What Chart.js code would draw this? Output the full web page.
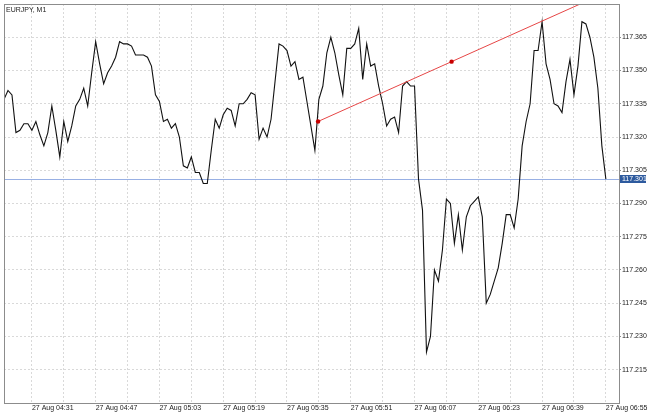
<!DOCTYPE html>
<html><head><meta charset="utf-8">
<script src="https://cdn.jsdelivr.net/npm/chart.js@4/dist/chart.umd.min.js"></script>
<style>html,body{margin:0;padding:0;background:#fff;overflow:hidden}</style>
</head><body>
<canvas id="c" width="650" height="413"></canvas>
<script>
const symbol = "EURJPY, M1";
const datePrefix = "27 Aug ";
const startTime = "04:24";
const prices = [
117.337,117.341,117.339,117.322,117.323,117.326,117.326,117.323,117.327,117.321,
117.316,117.322,117.334,117.323,117.311,117.327,117.318,117.325,117.334,117.337,
117.342,117.334,117.349,117.363,117.353,117.344,117.349,117.352,117.356,117.363,
117.362,117.362,117.361,117.357,117.357,117.357,117.356,117.352,117.339,117.336,
117.327,117.328,117.324,117.326,117.320,117.307,117.306,117.311,117.304,117.304,
117.299,117.299,117.314,117.328,117.324,117.330,117.333,117.332,117.325,117.335,
117.335,117.337,117.340,117.339,117.319,117.324,117.320,117.328,117.345,117.362,
117.361,117.359,117.352,117.354,117.346,117.347,117.336,117.325,117.314,117.337,
117.343,117.358,117.365,117.358,117.348,117.339,117.360,117.360,117.362,117.369,
117.346,117.362,117.352,117.353,117.343,117.335,117.325,117.328,117.329,117.322,
117.343,117.345,117.343,117.343,117.301,117.287,117.223,117.230,117.260,117.255,
117.269,117.292,117.290,117.272,117.285,117.269,117.284,117.289,117.291,117.293,
117.284,117.245,117.249,117.255,117.261,117.272,117.285,117.285,117.279,117.292,
117.316,117.327,117.335,117.359,117.359,117.372,117.353,117.346,117.335,117.334,
117.331,117.345,117.355,117.339,117.352,117.372,117.371,117.365,117.356,117.342,
117.316,117.301
];
const xTickTimes = ["04:31","04:47","05:03","05:19","05:35","05:51","06:07","06:23","06:39","06:55"];
const yTicks = [117.215,117.230,117.245,117.260,117.275,117.290,117.305,117.320,117.335,117.350,117.365];
const currentPrice = 117.301;
const trendX = [78.8, 112.3];     // minutes after start
const trendY = [117.327, 117.354];

const X_MIN = 0, X_MAX = 154.3, Y_MIN = 117.200, Y_MAX = 117.380;

function toMin(t){const [h,m]=t.split(':').map(Number);return h*60+m;}
const t0 = toMin(startTime);
const xTicks = [];
xTickTimes.forEach(t => {
  const m = toMin(t) - t0;
  xTicks.push({value: m, label: datePrefix + t});
  if (m + 8 <= X_MAX) xTicks.push({value: m + 8, label: ''});
});

const lineData = prices.map((p, i) => ({x: i, y: p}));
const slope = (trendY[1] - trendY[0]) / (trendX[1] - trendX[0]);
const trendData = [
  {x: trendX[0], y: trendY[0]},
  {x: trendX[1], y: trendY[1]},
  {x: X_MAX + 10, y: trendY[0] + slope * (X_MAX + 10 - trendX[0])}
];

Chart.defaults.font.family = "'Liberation Sans', Arial, sans-serif";
Chart.defaults.font.size = 7;
Chart.defaults.color = '#222';

const overlay = {
  id: 'overlay',
  beforeDatasetsDraw(chart) {
    const {ctx, chartArea: a, scales: {y}} = chart;
    const py = Math.round(y.getPixelForValue(currentPrice)) + 0.5;
    ctx.save();
    ctx.strokeStyle = '#98b0e4';
    ctx.lineWidth = 1;
    ctx.beginPath(); ctx.moveTo(a.left, py); ctx.lineTo(a.right, py); ctx.stroke();
    ctx.restore();
  },
  afterDraw(chart) {
    const {ctx, chartArea: a, scales: {y}} = chart;
    ctx.save();
    ctx.strokeStyle = '#8c8c8c';
    ctx.lineWidth = 1;
    ctx.strokeRect(a.left + 0.5, a.top + 0.5, a.right - a.left, a.bottom - a.top);
    // current price box
    const py = Math.round(y.getPixelForValue(currentPrice));
    ctx.fillStyle = '#2d5a9e';
    ctx.fillRect(a.right + 1, py - 4, 26, 8);
    ctx.fillStyle = '#fff';
    ctx.font = "7px 'Liberation Sans', Arial, sans-serif";
    ctx.textBaseline = 'middle';
    ctx.textAlign = 'left';
    ctx.fillText(currentPrice.toFixed(3), a.right + 3, py + 0.5);
    // title
    ctx.fillStyle = '#222';
    ctx.textBaseline = 'top';
    ctx.fillText(symbol, a.left + 2, a.top + 3);
    ctx.restore();
  }
};

new Chart(document.getElementById('c'), {
  type: 'line',
  data: {
    datasets: [
      {data: lineData, borderColor: '#111', borderWidth: 1.1, pointRadius: 0, tension: 0, fill: false, order: 2},
      {data: trendData, borderColor: '#e64646', borderWidth: 1, pointRadius: [2.2, 2.2, 0],
       pointBackgroundColor: '#c80000', pointBorderWidth: 0, tension: 0, fill: false, order: 1}
    ]
  },
  options: {
    responsive: false,
    animation: false,
    devicePixelRatio: 1,
    layout: {padding: {left: 4, top: 3, right: 0, bottom: 0}},
    plugins: {legend: {display: false}, tooltip: {enabled: false}, title: {display: false}},
    scales: {
      x: {
        type: 'linear', min: X_MIN, max: X_MAX,
        afterBuildTicks(s){ s.ticks = xTicks.map(t => ({value: t.value, label: t.label})); },
        afterFit(s){ s.height = 10; s.paddingLeft = 0; s.paddingRight = 0; },
        ticks: {autoSkip: false, maxRotation: 0, minRotation: 0, align: 'start', padding: 1,
          color: '#222', callback(v, i){ return xTicks[i] ? xTicks[i].label : ''; }},
        grid: {color: '#d9d9d9', drawTicks: false, lineWidth: 1},
        border: {display: false, dash: [2, 2]}
      },
      y: {
        type: 'linear', position: 'right', min: Y_MIN, max: Y_MAX,
        afterBuildTicks(s){ s.ticks = yTicks.map(v => ({value: v})); },
        afterFit(s){ s.width = 31; s.paddingTop = 0; s.paddingBottom = 0; },
        ticks: {padding: 1, color: '#222', callback(v){ return Number(v).toFixed(3); }},
        grid: {color: '#d9d9d9', drawTicks: true, tickLength: 2, tickColor: '#8c8c8c', tickBorderDash: [], lineWidth: 1},
        border: {display: false, dash: [2, 2]}
      }
    }
  },
  plugins: [overlay]
});
</script>
</body></html>
